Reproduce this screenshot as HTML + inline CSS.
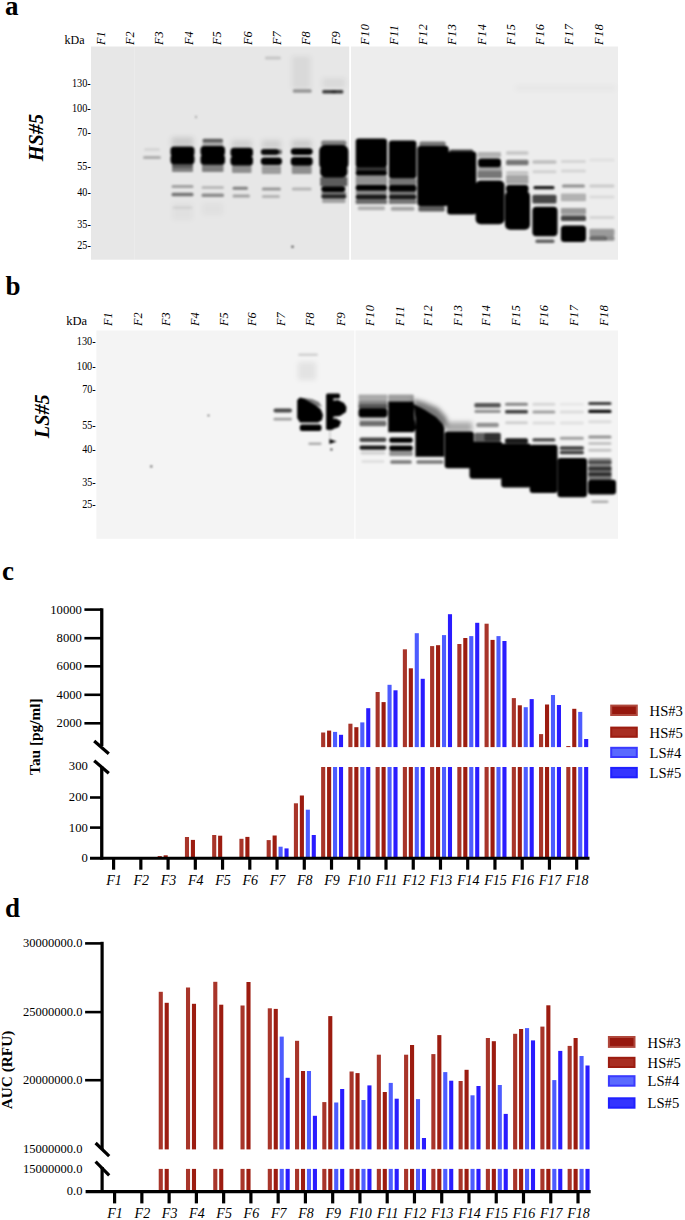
<!DOCTYPE html>
<html><head><meta charset="utf-8"><title>Figure</title>
<style>
html,body{margin:0;padding:0;background:#fff;}
body{width:685px;height:1220px;overflow:hidden;}
svg{display:block;font-family:"Liberation Serif", serif;}
text{stroke:none;}
</style></head>
<body>
<svg width="685" height="1220" viewBox="0 0 685 1220">
<rect width="685" height="1220" fill="#fff"/>
<text x="5" y="14.5" font-size="27" text-anchor="start" font-weight="bold" font-style="normal" fill="#000" style="stroke-width:0">a</text>
<text x="5.5" y="294.8" font-size="27" text-anchor="start" font-weight="bold" font-style="normal" fill="#000" style="stroke-width:0">b</text>
<text x="2" y="580" font-size="27" text-anchor="start" font-weight="bold" font-style="normal" fill="#000" style="stroke-width:0">c</text>
<text x="5" y="916.6" font-size="27" text-anchor="start" font-weight="bold" font-style="normal" fill="#000" style="stroke-width:0">d</text>
<defs><filter id="bl" x="-20%" y="-20%" width="140%" height="140%"><feGaussianBlur stdDeviation="1.15"/></filter><filter id="bl2" x="-20%" y="-20%" width="140%" height="140%"><feGaussianBlur stdDeviation="2.4"/></filter></defs>
<rect x="91" y="46.5" width="258.2" height="213.2" fill="#e7e7e7"/>
<rect x="351" y="46.5" width="267" height="213.2" fill="#ededed"/>
<rect x="134" y="46.5" width="1" height="213.2" fill="#fff" fill-opacity=".18"/>
<g filter="url(#bl2)"><rect x="171.5" y="137.0" width="22.0" height="10.0" rx="1.5" fill="#000" fill-opacity="0.12"/><rect x="172.5" y="203.0" width="20.0" height="17.0" rx="1.5" fill="#000" fill-opacity="0.03"/><rect x="202.5" y="203.0" width="20.5" height="12.0" rx="1.5" fill="#000" fill-opacity="0.03"/><rect x="231.5" y="140.0" width="20.5" height="8.0" rx="1.5" fill="#000" fill-opacity="0.1"/><rect x="261.8" y="140.0" width="19.2" height="9.0" rx="1.5" fill="#000" fill-opacity="0.1"/><rect x="291.8" y="56.0" width="18.9" height="33.0" rx="1.5" fill="#000" fill-opacity="0.06"/><rect x="291.8" y="140.0" width="19.9" height="8.0" rx="1.5" fill="#000" fill-opacity="0.12"/><rect x="322.2" y="78.0" width="23.2" height="10.0" rx="1.5" fill="#000" fill-opacity="0.06"/><rect x="515.0" y="85.0" width="101.0" height="6.0" rx="1.5" fill="#000" fill-opacity="0.025"/></g>
<g filter="url(#bl)"><rect x="143.0" y="156.0" width="18.0" height="3.0" rx="1.5" fill="#000" fill-opacity="0.25"/><rect x="144.0" y="148.0" width="16.0" height="3.0" rx="1.5" fill="#000" fill-opacity="0.08"/><rect x="170.5" y="146.4" width="24.0" height="10.1" rx="3.5" fill="#000" fill-opacity="1"/><rect x="170.5" y="154.5" width="24.0" height="9.7" rx="3.5" fill="#000" fill-opacity="1"/><rect x="172.0" y="163.0" width="21.0" height="4.5" rx="1" fill="#000" fill-opacity="0.6"/><rect x="172.0" y="167.0" width="21.0" height="5.0" rx="1" fill="#000" fill-opacity="0.45"/><rect x="171.5" y="185.1" width="22.0" height="3.0" rx="1.5" fill="#000" fill-opacity="0.3"/><rect x="171.5" y="192.8" width="22.0" height="3.5" rx="1.5" fill="#000" fill-opacity="0.5"/><rect x="172.5" y="206.2" width="20.0" height="3.0" rx="1.5" fill="#000" fill-opacity="0.06"/><rect x="202.5" y="138.7" width="20.5" height="3.5" rx="1.5" fill="#000" fill-opacity="0.6"/><rect x="202.5" y="142.0" width="20.5" height="4.5" rx="1" fill="#000" fill-opacity="0.25"/><rect x="200.5" y="146.0" width="24.5" height="10.0" rx="3.5" fill="#000" fill-opacity="1"/><rect x="200.5" y="154.5" width="24.5" height="10.2" rx="3.5" fill="#000" fill-opacity="1"/><rect x="202.0" y="164.0" width="21.5" height="8.0" rx="1" fill="#000" fill-opacity="0.45"/><rect x="201.5" y="186.1" width="22.5" height="3.0" rx="1.5" fill="#000" fill-opacity="0.2"/><rect x="201.5" y="193.4" width="22.5" height="3.5" rx="1.5" fill="#000" fill-opacity="0.4"/><rect x="230.5" y="147.8" width="22.5" height="9.2" rx="3.5" fill="#000" fill-opacity="1"/><rect x="230.5" y="156.0" width="22.5" height="9.4" rx="3.5" fill="#000" fill-opacity="1"/><rect x="232.0" y="165.0" width="19.5" height="8.0" rx="1" fill="#000" fill-opacity="0.38"/><rect x="232.5" y="186.8" width="15.5" height="3.0" rx="1.5" fill="#000" fill-opacity="0.45"/><rect x="232.5" y="194.4" width="17.5" height="3.0" rx="1.5" fill="#000" fill-opacity="0.3"/><rect x="260.8" y="149.0" width="18.2" height="6.1" rx="3" fill="#000" fill-opacity="0.95"/><rect x="277.0" y="149.5" width="5.0" height="5.1" rx="2" fill="#000" fill-opacity="0.55"/><rect x="260.8" y="157.5" width="21.2" height="7.5" rx="3.5" fill="#000" fill-opacity="1"/><rect x="261.8" y="165.5" width="19.2" height="8.5" rx="1" fill="#000" fill-opacity="0.32"/><rect x="261.8" y="187.6" width="19.2" height="3.0" rx="1.5" fill="#000" fill-opacity="0.35"/><rect x="261.8" y="194.9" width="18.2" height="3.0" rx="1.5" fill="#000" fill-opacity="0.22"/><rect x="264.8" y="56.5" width="16.2" height="3.0" rx="1.5" fill="#000" fill-opacity="0.15"/><rect x="290.8" y="148.2" width="21.9" height="6.8" rx="3.5" fill="#000" fill-opacity="1"/><rect x="290.8" y="157.0" width="21.9" height="8.8" rx="3.5" fill="#000" fill-opacity="1"/><rect x="291.8" y="166.0" width="19.9" height="8.0" rx="1" fill="#000" fill-opacity="0.38"/><rect x="291.8" y="187.5" width="19.9" height="3.0" rx="1.5" fill="#000" fill-opacity="0.22"/><rect x="292.8" y="89.2" width="18.9" height="3.5" rx="1.5" fill="#000" fill-opacity="0.35"/><rect x="321.2" y="140.5" width="25.2" height="5.5" rx="2" fill="#000" fill-opacity="0.45"/><rect x="319.2" y="145.0" width="29.2" height="25.0" rx="6" fill="#000" fill-opacity="1"/><rect x="320.2" y="165.0" width="27.2" height="12.4" rx="5" fill="#000" fill-opacity="1"/><rect x="322.2" y="90.0" width="21.2" height="3.5" rx="1.5" fill="#000" fill-opacity="0.75"/><rect x="331.2" y="90.2" width="5.2" height="3.0" rx="1.5" fill="#000" fill-opacity="0.35"/><rect x="320.2" y="177.0" width="27.2" height="9.2" rx="1" fill="#000" fill-opacity="0.6"/><rect x="321.2" y="186.2" width="24.2" height="5.8" rx="3" fill="#000" fill-opacity="1"/><rect x="321.2" y="192.0" width="25.2" height="2.2" rx="1" fill="#000" fill-opacity="0.45"/><rect x="321.2" y="194.2" width="25.2" height="4.4" rx="2" fill="#000" fill-opacity="0.85"/><rect x="322.2" y="198.6" width="23.2" height="4.4" rx="1" fill="#000" fill-opacity="0.3"/><rect x="355.7" y="138.5" width="31.3" height="29.0" rx="3" fill="#000" fill-opacity="1"/><rect x="355.7" y="167.0" width="31.3" height="4.0" rx="1" fill="#000" fill-opacity="0.75"/><rect x="355.7" y="170.5" width="31.3" height="5.0" rx="2" fill="#000" fill-opacity="1"/><rect x="355.7" y="175.5" width="31.3" height="9.5" rx="1" fill="#000" fill-opacity="0.38"/><rect x="355.7" y="185.0" width="31.3" height="5.7" rx="2" fill="#000" fill-opacity="1"/><rect x="355.7" y="190.7" width="31.3" height="3.8" rx="1" fill="#000" fill-opacity="0.4"/><rect x="355.7" y="194.5" width="31.3" height="4.8" rx="2" fill="#000" fill-opacity="0.9"/><rect x="355.7" y="199.3" width="31.3" height="4.7" rx="1" fill="#000" fill-opacity="0.55"/><rect x="357.7" y="206.3" width="27.3" height="4.0" rx="1.5" fill="#000" fill-opacity="0.25"/><rect x="388.9" y="140.4" width="27.5" height="38.0" rx="3" fill="#000" fill-opacity="1"/><rect x="388.9" y="178.4" width="27.5" height="6.6" rx="1" fill="#000" fill-opacity="0.5"/><rect x="388.9" y="185.0" width="27.5" height="6.7" rx="2" fill="#000" fill-opacity="1"/><rect x="388.9" y="191.7" width="27.5" height="2.8" rx="1" fill="#000" fill-opacity="0.45"/><rect x="388.9" y="194.5" width="27.5" height="4.8" rx="2" fill="#000" fill-opacity="0.9"/><rect x="388.9" y="199.3" width="27.5" height="4.7" rx="1" fill="#000" fill-opacity="0.5"/><rect x="390.9" y="206.7" width="23.5" height="4.0" rx="1.5" fill="#000" fill-opacity="0.3"/><rect x="419.4" y="141.4" width="26.3" height="5.6" rx="2" fill="#000" fill-opacity="0.5"/><rect x="417.4" y="146.0" width="31.3" height="60.0" rx="3" fill="#000" fill-opacity="1"/><rect x="418.4" y="206.0" width="26.3" height="5.6" rx="1.5" fill="#000" fill-opacity="0.6"/><rect x="449.7" y="149.5" width="23.5" height="3.0" rx="1.5" fill="#000" fill-opacity="0.7"/><rect x="447.2" y="151.5" width="29.0" height="63.0" rx="3" fill="#000" fill-opacity="1"/><rect x="477.6" y="152.0" width="23.4" height="5.5" rx="1" fill="#000" fill-opacity="0.25"/><rect x="478.1" y="158.6" width="22.9" height="8.6" rx="3" fill="#000" fill-opacity="1"/><rect x="477.6" y="166.3" width="24.4" height="4.4" rx="1" fill="#000" fill-opacity="0.3"/><rect x="477.6" y="170.7" width="24.4" height="7.6" rx="1" fill="#000" fill-opacity="0.5"/><rect x="475.6" y="180.5" width="28.9" height="43.8" rx="5" fill="#000" fill-opacity="1"/><rect x="506.0" y="151.0" width="22.5" height="4.0" rx="1.5" fill="#000" fill-opacity="0.15"/><rect x="506.0" y="159.7" width="22.5" height="5.5" rx="1.5" fill="#000" fill-opacity="0.5"/><rect x="506.0" y="171.3" width="22.5" height="3.0" rx="1.5" fill="#000" fill-opacity="0.2"/><rect x="506.0" y="175.0" width="22.5" height="9.0" rx="1" fill="#000" fill-opacity="0.3"/><rect x="506.0" y="184.9" width="22.5" height="7.7" rx="3" fill="#000" fill-opacity="1"/><rect x="505.0" y="191.0" width="25.0" height="38.8" rx="5" fill="#000" fill-opacity="1"/><rect x="532.4" y="160.2" width="24.1" height="3.5" rx="1.5" fill="#000" fill-opacity="0.2"/><rect x="532.4" y="170.2" width="24.1" height="3.0" rx="1.5" fill="#000" fill-opacity="0.12"/><rect x="533.4" y="186.0" width="21.1" height="3.2" rx="1.5" fill="#000" fill-opacity="0.9"/><rect x="532.4" y="194.7" width="24.1" height="8.8" rx="1.5" fill="#000" fill-opacity="0.7"/><rect x="532.4" y="206.8" width="25.1" height="29.5" rx="4" fill="#000" fill-opacity="1"/><rect x="535.4" y="239.6" width="19.1" height="3.5" rx="1.5" fill="#000" fill-opacity="0.6"/><rect x="560.9" y="160.0" width="25.1" height="3.0" rx="1.5" fill="#000" fill-opacity="0.1"/><rect x="560.9" y="169.5" width="25.1" height="3.0" rx="1.5" fill="#000" fill-opacity="0.1"/><rect x="561.9" y="184.5" width="23.1" height="3.0" rx="1.5" fill="#000" fill-opacity="0.4"/><rect x="560.9" y="193.6" width="25.1" height="7.7" rx="1" fill="#000" fill-opacity="0.25"/><rect x="560.9" y="207.9" width="25.1" height="6.5" rx="1" fill="#000" fill-opacity="0.35"/><rect x="560.9" y="215.5" width="25.1" height="5.5" rx="1.5" fill="#000" fill-opacity="0.7"/><rect x="560.9" y="225.4" width="25.1" height="16.6" rx="3.5" fill="#000" fill-opacity="1"/><rect x="560.9" y="233.5" width="25.1" height="3.0" rx="0" fill="#000" fill-opacity="0.15"/><rect x="589.3" y="158.5" width="25.2" height="3.0" rx="1.5" fill="#000" fill-opacity="0.05"/><rect x="589.3" y="184.5" width="25.2" height="3.0" rx="1.5" fill="#000" fill-opacity="0.15"/><rect x="589.3" y="195.5" width="25.2" height="3.0" rx="1.5" fill="#000" fill-opacity="0.08"/><rect x="589.3" y="216.0" width="25.2" height="3.0" rx="1.5" fill="#000" fill-opacity="0.1"/><rect x="589.3" y="228.7" width="25.2" height="7.3" rx="1.5" fill="#000" fill-opacity="0.35"/><rect x="589.3" y="236.0" width="17.2" height="4.7" rx="1.5" fill="#000" fill-opacity="0.55"/><rect x="605.5" y="236.0" width="9.0" height="4.7" rx="1.5" fill="#000" fill-opacity="0.4"/><circle cx="292.5" cy="246.8" r="1" fill="#000"/><circle cx="196" cy="117" r=".8" fill="#555"/></g>
<rect x="96.4" y="330.5" width="258" height="208.29999999999995" fill="#f4f4f4"/>
<rect x="355.5" y="330.5" width="262.5" height="208.29999999999995" fill="#f4f4f4"/>
<g filter="url(#bl2)"><rect x="298.0" y="362.0" width="18.0" height="18.0" rx="1.5" fill="#000" fill-opacity="0.07"/><polygon points="412,399 424,402 438,408 447,418 447,428 420,420" fill="#000" fill-opacity="0.5"/><rect x="446.2" y="422.0" width="26.1" height="10.0" rx="1.5" fill="#000" fill-opacity="0.3"/></g>
<g filter="url(#bl)"><rect x="273.5" y="408.6" width="18.5" height="4.0" rx="2" fill="#000" fill-opacity="0.7"/><rect x="273.5" y="417.8" width="18.5" height="2.7" rx="1.5" fill="#000" fill-opacity="0.35"/><polygon points="297.2,400 300,397.5 304,398.5 310,402 316,405.5 320.5,409 321.5,411 323,415 322,420 318,422.5 300,422.5 297.2,418" fill="#000" fill-opacity="1"/><polygon points="303,398 312,399 319,402 322,407 317,406 308,402" fill="#000" fill-opacity="0.5"/><rect x="299.8" y="424.4" width="21.7" height="6.6" rx="2.5" fill="#000" fill-opacity="1"/><rect x="308.4" y="442.6" width="13.1" height="2.4" rx="1" fill="#000" fill-opacity="0.3"/><rect x="298.0" y="353.4" width="20.0" height="2.5" rx="1.5" fill="#000" fill-opacity="0.15"/><rect x="326.1" y="393.5" width="13.9" height="5.0" rx="1.5" fill="#000" fill-opacity="1"/><rect x="326.1" y="396.0" width="7.2" height="33.7" rx="1.5" fill="#000" fill-opacity="1"/><polygon points="330,401 338,400 344,403 346.5,407 346,412 340,416 330,417" fill="#000" fill-opacity="1"/><polygon points="328,419 336,418.5 341.2,421.5 339,427 331,429.7 327,429.7" fill="#000" fill-opacity="1"/><polygon points="329.4,438.9 336.6,441.5 329.4,444.1" fill="#000" fill-opacity="1"/><circle cx="331.4" cy="449.6" r="1" fill="#000"/><rect x="329.6" y="430.0" width="0.8" height="9.0" rx="0" fill="#000" fill-opacity="0.3"/><rect x="358.5" y="394.6" width="28.9" height="6.2" rx="1" fill="#000" fill-opacity="0.3"/><rect x="358.5" y="400.8" width="28.9" height="4.2" rx="1" fill="#000" fill-opacity="0.45"/><rect x="358.5" y="404.5" width="28.9" height="4.2" rx="1" fill="#000" fill-opacity="0.65"/><rect x="358.5" y="408.3" width="28.9" height="9.1" rx="3" fill="#000" fill-opacity="1"/><rect x="358.5" y="417.4" width="28.9" height="3.6" rx="1" fill="#000" fill-opacity="0.15"/><rect x="359.5" y="421.0" width="26.9" height="5.2" rx="1.5" fill="#000" fill-opacity="0.55"/><rect x="359.5" y="437.6" width="26.9" height="4.4" rx="2" fill="#000" fill-opacity="0.7"/><rect x="359.5" y="445.4" width="26.9" height="4.4" rx="2" fill="#000" fill-opacity="0.9"/><rect x="360.5" y="451.5" width="24.9" height="3.0" rx="1.5" fill="#000" fill-opacity="0.15"/><rect x="361.5" y="460.2" width="22.9" height="2.5" rx="1.5" fill="#000" fill-opacity="0.1"/><rect x="388.3" y="394.6" width="25.4" height="7.0" rx="1" fill="#000" fill-opacity="0.35"/><polygon points="388.3,401.6 413.7,401.6 414.7,420 416.2,428 413.7,432.3 388.3,432.3" fill="#000" fill-opacity="1"/><rect x="389.3" y="437.6" width="23.4" height="5.2" rx="2" fill="#000" fill-opacity="1"/><rect x="389.3" y="445.4" width="23.4" height="5.3" rx="2" fill="#000" fill-opacity="1"/><rect x="389.3" y="451.0" width="23.4" height="5.0" rx="1" fill="#000" fill-opacity="0.4"/><rect x="390.3" y="460.3" width="21.4" height="3.5" rx="1.5" fill="#000" fill-opacity="0.5"/><polygon points="413.7,404 425,410 436,417 442.6,424 444.3,428 444.3,456.8 415.4,456.8 415.4,418" fill="#000" fill-opacity="1"/><rect x="416.4" y="460.3" width="26.9" height="3.5" rx="1.5" fill="#000" fill-opacity="0.5"/><rect x="444.7" y="431.4" width="29.1" height="36.8" rx="3" fill="#000" fill-opacity="1"/><rect x="474.4" y="403.1" width="26.3" height="4.4" rx="1.5" fill="#000" fill-opacity="0.65"/><rect x="474.4" y="409.7" width="26.3" height="3.3" rx="1.5" fill="#000" fill-opacity="0.4"/><rect x="476.4" y="422.8" width="22.3" height="4.4" rx="1.5" fill="#000" fill-opacity="0.4"/><rect x="474.4" y="432.7" width="26.3" height="8.8" rx="1.5" fill="#000" fill-opacity="0.6"/><rect x="484.4" y="433.0" width="16.3" height="8.0" rx="1.5" fill="#000" fill-opacity="0.5"/><rect x="469.5" y="441.5" width="33.0" height="37.2" rx="3" fill="#000" fill-opacity="1"/><rect x="505.0" y="402.7" width="23.0" height="3.0" rx="1.5" fill="#000" fill-opacity="0.45"/><rect x="505.0" y="410.1" width="23.0" height="3.5" rx="1.5" fill="#000" fill-opacity="0.75"/><rect x="505.0" y="421.3" width="23.0" height="3.0" rx="1.5" fill="#000" fill-opacity="0.15"/><rect x="505.0" y="438.2" width="23.0" height="5.4" rx="2" fill="#000" fill-opacity="0.9"/><rect x="501.2" y="443.6" width="29.8" height="43.8" rx="3" fill="#000" fill-opacity="1"/><rect x="532.4" y="402.7" width="23.0" height="3.0" rx="1.5" fill="#000" fill-opacity="0.12"/><rect x="532.4" y="410.4" width="23.0" height="3.0" rx="1.5" fill="#000" fill-opacity="0.35"/><rect x="532.4" y="421.5" width="23.0" height="3.0" rx="1.5" fill="#000" fill-opacity="0.1"/><rect x="532.4" y="438.2" width="23.0" height="3.3" rx="1.5" fill="#000" fill-opacity="0.7"/><rect x="529.7" y="444.7" width="27.8" height="48.2" rx="3" fill="#000" fill-opacity="1"/><rect x="559.8" y="402.7" width="24.1" height="3.0" rx="1.5" fill="#000" fill-opacity="0.05"/><rect x="559.8" y="410.4" width="24.1" height="3.0" rx="1.5" fill="#000" fill-opacity="0.1"/><rect x="559.8" y="421.5" width="24.1" height="3.0" rx="1.5" fill="#000" fill-opacity="0.08"/><rect x="559.8" y="436.7" width="24.1" height="3.0" rx="1.5" fill="#000" fill-opacity="0.35"/><rect x="559.8" y="446.2" width="24.1" height="3.5" rx="1.5" fill="#000" fill-opacity="0.75"/><rect x="559.8" y="450.8" width="24.1" height="3.5" rx="1.5" fill="#000" fill-opacity="0.75"/><rect x="557.5" y="457.9" width="29.5" height="39.4" rx="3" fill="#000" fill-opacity="1"/><rect x="588.2" y="402.0" width="23.3" height="3.0" rx="1.5" fill="#000" fill-opacity="0.75"/><rect x="588.2" y="409.7" width="23.3" height="3.3" rx="1.5" fill="#000" fill-opacity="0.95"/><rect x="588.2" y="420.2" width="23.3" height="3.0" rx="1.5" fill="#000" fill-opacity="0.1"/><rect x="588.2" y="435.5" width="23.3" height="3.0" rx="1.5" fill="#000" fill-opacity="0.4"/><rect x="588.2" y="442.1" width="23.3" height="3.0" rx="1.5" fill="#000" fill-opacity="0.2"/><rect x="588.2" y="448.7" width="23.3" height="3.0" rx="1.5" fill="#000" fill-opacity="0.2"/><rect x="588.2" y="457.9" width="23.3" height="7.1" rx="1.5" fill="#000" fill-opacity="0.4"/><rect x="588.2" y="460.8" width="23.3" height="3.0" rx="1.5" fill="#000" fill-opacity="0.55"/><rect x="588.2" y="467.1" width="23.3" height="3.5" rx="1.5" fill="#000" fill-opacity="0.6"/><rect x="588.2" y="465.0" width="23.3" height="15.0" rx="1.5" fill="#000" fill-opacity="0.5"/><rect x="588.2" y="472.6" width="23.3" height="3.5" rx="1.5" fill="#000" fill-opacity="0.65"/><rect x="588.0" y="479.8" width="28.0" height="14.7" rx="3" fill="#000" fill-opacity="1"/><rect x="591.2" y="500.4" width="17.3" height="2.5" rx="1.5" fill="#000" fill-opacity="0.3"/><circle cx="151.3" cy="466.4" r=".9" fill="#000"/><circle cx="208.5" cy="415.5" r=".8" fill="#000"/></g>
<text x="0" y="0" transform="translate(105.1,44.9) rotate(-90)" font-size="12.3" text-anchor="start" font-weight="normal" font-style="italic" fill="#000" style="stroke-width:0">F1</text>
<text x="0" y="0" transform="translate(134.20000000000002,44.9) rotate(-90)" font-size="12.3" text-anchor="start" font-weight="normal" font-style="italic" fill="#000" style="stroke-width:0">F2</text>
<text x="0" y="0" transform="translate(162.8,44.9) rotate(-90)" font-size="12.3" text-anchor="start" font-weight="normal" font-style="italic" fill="#000" style="stroke-width:0">F3</text>
<text x="0" y="0" transform="translate(192.60000000000002,44.9) rotate(-90)" font-size="12.3" text-anchor="start" font-weight="normal" font-style="italic" fill="#000" style="stroke-width:0">F4</text>
<text x="0" y="0" transform="translate(221.20000000000002,44.9) rotate(-90)" font-size="12.3" text-anchor="start" font-weight="normal" font-style="italic" fill="#000" style="stroke-width:0">F5</text>
<text x="0" y="0" transform="translate(252.0,44.9) rotate(-90)" font-size="12.3" text-anchor="start" font-weight="normal" font-style="italic" fill="#000" style="stroke-width:0">F6</text>
<text x="0" y="0" transform="translate(280.90000000000003,44.9) rotate(-90)" font-size="12.3" text-anchor="start" font-weight="normal" font-style="italic" fill="#000" style="stroke-width:0">F7</text>
<text x="0" y="0" transform="translate(309.7,44.9) rotate(-90)" font-size="12.3" text-anchor="start" font-weight="normal" font-style="italic" fill="#000" style="stroke-width:0">F8</text>
<text x="0" y="0" transform="translate(339.8,44.9) rotate(-90)" font-size="12.3" text-anchor="start" font-weight="normal" font-style="italic" fill="#000" style="stroke-width:0">F9</text>
<text x="0" y="0" transform="translate(368.7,44.9) rotate(-90)" font-size="12.3" text-anchor="start" font-weight="normal" font-style="italic" fill="#000" letter-spacing="0.5" style="stroke-width:0">F10</text>
<text x="0" y="0" transform="translate(397.5,44.9) rotate(-90)" font-size="12.3" text-anchor="start" font-weight="normal" font-style="italic" fill="#000" letter-spacing="0.5" style="stroke-width:0">F11</text>
<text x="0" y="0" transform="translate(426.7,44.9) rotate(-90)" font-size="12.3" text-anchor="start" font-weight="normal" font-style="italic" fill="#000" letter-spacing="0.5" style="stroke-width:0">F12</text>
<text x="0" y="0" transform="translate(456.1,44.9) rotate(-90)" font-size="12.3" text-anchor="start" font-weight="normal" font-style="italic" fill="#000" letter-spacing="0.5" style="stroke-width:0">F13</text>
<text x="0" y="0" transform="translate(485.8,44.9) rotate(-90)" font-size="12.3" text-anchor="start" font-weight="normal" font-style="italic" fill="#000" letter-spacing="0.5" style="stroke-width:0">F14</text>
<text x="0" y="0" transform="translate(514.8,44.9) rotate(-90)" font-size="12.3" text-anchor="start" font-weight="normal" font-style="italic" fill="#000" letter-spacing="0.5" style="stroke-width:0">F15</text>
<text x="0" y="0" transform="translate(544.1999999999999,44.9) rotate(-90)" font-size="12.3" text-anchor="start" font-weight="normal" font-style="italic" fill="#000" letter-spacing="0.5" style="stroke-width:0">F16</text>
<text x="0" y="0" transform="translate(573.1999999999999,44.9) rotate(-90)" font-size="12.3" text-anchor="start" font-weight="normal" font-style="italic" fill="#000" letter-spacing="0.5" style="stroke-width:0">F17</text>
<text x="0" y="0" transform="translate(602.5999999999999,44.9) rotate(-90)" font-size="12.3" text-anchor="start" font-weight="normal" font-style="italic" fill="#000" letter-spacing="0.5" style="stroke-width:0">F18</text>
<text x="0" y="0" transform="translate(111.60000000000001,325.9) rotate(-90)" font-size="12.3" text-anchor="start" font-weight="normal" font-style="italic" fill="#000" style="stroke-width:0">F1</text>
<text x="0" y="0" transform="translate(141.7,325.9) rotate(-90)" font-size="12.3" text-anchor="start" font-weight="normal" font-style="italic" fill="#000" style="stroke-width:0">F2</text>
<text x="0" y="0" transform="translate(169.7,325.9) rotate(-90)" font-size="12.3" text-anchor="start" font-weight="normal" font-style="italic" fill="#000" style="stroke-width:0">F3</text>
<text x="0" y="0" transform="translate(198.79999999999998,325.9) rotate(-90)" font-size="12.3" text-anchor="start" font-weight="normal" font-style="italic" fill="#000" style="stroke-width:0">F4</text>
<text x="0" y="0" transform="translate(227.5,325.9) rotate(-90)" font-size="12.3" text-anchor="start" font-weight="normal" font-style="italic" fill="#000" style="stroke-width:0">F5</text>
<text x="0" y="0" transform="translate(255.89999999999998,325.9) rotate(-90)" font-size="12.3" text-anchor="start" font-weight="normal" font-style="italic" fill="#000" style="stroke-width:0">F6</text>
<text x="0" y="0" transform="translate(285.4,325.9) rotate(-90)" font-size="12.3" text-anchor="start" font-weight="normal" font-style="italic" fill="#000" style="stroke-width:0">F7</text>
<text x="0" y="0" transform="translate(314.2,325.9) rotate(-90)" font-size="12.3" text-anchor="start" font-weight="normal" font-style="italic" fill="#000" style="stroke-width:0">F8</text>
<text x="0" y="0" transform="translate(344.8,325.9) rotate(-90)" font-size="12.3" text-anchor="start" font-weight="normal" font-style="italic" fill="#000" style="stroke-width:0">F9</text>
<text x="0" y="0" transform="translate(374.2,325.9) rotate(-90)" font-size="12.3" text-anchor="start" font-weight="normal" font-style="italic" fill="#000" letter-spacing="0.5" style="stroke-width:0">F10</text>
<text x="0" y="0" transform="translate(403.8,325.9) rotate(-90)" font-size="12.3" text-anchor="start" font-weight="normal" font-style="italic" fill="#000" letter-spacing="0.5" style="stroke-width:0">F11</text>
<text x="0" y="0" transform="translate(432.2,325.9) rotate(-90)" font-size="12.3" text-anchor="start" font-weight="normal" font-style="italic" fill="#000" letter-spacing="0.5" style="stroke-width:0">F12</text>
<text x="0" y="0" transform="translate(461.7,325.9) rotate(-90)" font-size="12.3" text-anchor="start" font-weight="normal" font-style="italic" fill="#000" letter-spacing="0.5" style="stroke-width:0">F13</text>
<text x="0" y="0" transform="translate(490.2,325.9) rotate(-90)" font-size="12.3" text-anchor="start" font-weight="normal" font-style="italic" fill="#000" letter-spacing="0.5" style="stroke-width:0">F14</text>
<text x="0" y="0" transform="translate(520.2,325.9) rotate(-90)" font-size="12.3" text-anchor="start" font-weight="normal" font-style="italic" fill="#000" letter-spacing="0.5" style="stroke-width:0">F15</text>
<text x="0" y="0" transform="translate(548.2,325.9) rotate(-90)" font-size="12.3" text-anchor="start" font-weight="normal" font-style="italic" fill="#000" letter-spacing="0.5" style="stroke-width:0">F16</text>
<text x="0" y="0" transform="translate(578.0,325.9) rotate(-90)" font-size="12.3" text-anchor="start" font-weight="normal" font-style="italic" fill="#000" letter-spacing="0.5" style="stroke-width:0">F17</text>
<text x="0" y="0" transform="translate(607.6,325.9) rotate(-90)" font-size="12.3" text-anchor="start" font-weight="normal" font-style="italic" fill="#000" letter-spacing="0.5" style="stroke-width:0">F18</text>
<text x="64.5" y="43.7" font-size="12" text-anchor="start" font-weight="normal" font-style="normal" fill="#000">kDa</text>
<text x="66.3" y="324.8" font-size="12.5" text-anchor="start" font-weight="normal" font-style="normal" fill="#000">kDa</text>
<text x="71.9" y="86.9" font-size="13.2" textLength="18.9" lengthAdjust="spacingAndGlyphs">130-</text>
<text x="71.9" y="112.2" font-size="13.2" textLength="18.9" lengthAdjust="spacingAndGlyphs">100-</text>
<text x="77.3" y="135.7" font-size="13.2" textLength="13.5" lengthAdjust="spacingAndGlyphs">70-</text>
<text x="77.3" y="170.3" font-size="13.2" textLength="13.5" lengthAdjust="spacingAndGlyphs">55-</text>
<text x="77.3" y="195.5" font-size="13.2" textLength="13.5" lengthAdjust="spacingAndGlyphs">40-</text>
<text x="77.3" y="227.8" font-size="13.2" textLength="13.5" lengthAdjust="spacingAndGlyphs">35-</text>
<text x="77.3" y="249.3" font-size="13.2" textLength="13.5" lengthAdjust="spacingAndGlyphs">25-</text>
<text x="76.8" y="345.2" font-size="13.2" textLength="18.9" lengthAdjust="spacingAndGlyphs">130-</text>
<text x="76.8" y="370.4" font-size="13.2" textLength="18.9" lengthAdjust="spacingAndGlyphs">100-</text>
<text x="82.2" y="393.4" font-size="13.2" textLength="13.5" lengthAdjust="spacingAndGlyphs">70-</text>
<text x="82.2" y="428.6" font-size="13.2" textLength="13.5" lengthAdjust="spacingAndGlyphs">55-</text>
<text x="82.2" y="453.4" font-size="13.2" textLength="13.5" lengthAdjust="spacingAndGlyphs">40-</text>
<text x="82.2" y="486.2" font-size="13.2" textLength="13.5" lengthAdjust="spacingAndGlyphs">35-</text>
<text x="82.2" y="507.5" font-size="13.2" textLength="13.5" lengthAdjust="spacingAndGlyphs">25-</text>
<text x="0" y="0" transform="translate(42.8,161.2) rotate(-90)" font-size="20.3" text-anchor="start" font-weight="bold" font-style="italic" fill="#000" style="stroke-width:0">HS#5</text>
<text x="0" y="0" transform="translate(48.8,438.2) rotate(-90)" font-size="20.3" text-anchor="start" font-weight="bold" font-style="italic" fill="#000" style="stroke-width:0">LS#5</text>
<rect x="157.68" y="856.0" width="4.1" height="2.0" fill="#a8352a"/><rect x="163.63" y="855.3" width="4.1" height="2.7" fill="#9c1c10"/><rect x="184.92" y="837.0" width="4.1" height="21.0" fill="#a8352a"/><rect x="190.87" y="839.9" width="4.1" height="18.1" fill="#9c1c10"/><rect x="212.16" y="835.0" width="4.1" height="23.0" fill="#a8352a"/><rect x="218.11" y="835.7" width="4.1" height="22.3" fill="#9c1c10"/><rect x="239.40" y="838.8" width="4.1" height="19.2" fill="#a8352a"/><rect x="245.35" y="836.9" width="4.1" height="21.1" fill="#9c1c10"/><rect x="266.64" y="840.1" width="4.1" height="17.9" fill="#a8352a"/><rect x="272.59" y="835.5" width="4.1" height="22.5" fill="#9c1c10"/><rect x="278.54" y="846.7" width="4.1" height="11.3" fill="#4d5cff"/><rect x="284.49" y="848.4" width="4.1" height="9.6" fill="#2a1cff"/><rect x="293.88" y="803.3" width="4.1" height="54.7" fill="#a8352a"/><rect x="299.83" y="795.5" width="4.1" height="62.5" fill="#9c1c10"/><rect x="305.78" y="809.7" width="4.1" height="48.3" fill="#4d5cff"/><rect x="311.73" y="835.0" width="4.1" height="23.0" fill="#2a1cff"/><rect x="321.12" y="767.0" width="4.1" height="91.0" fill="#a8352a"/><rect x="327.07" y="767.0" width="4.1" height="91.0" fill="#9c1c10"/><rect x="333.02" y="767.0" width="4.1" height="91.0" fill="#4d5cff"/><rect x="338.97" y="767.0" width="4.1" height="91.0" fill="#2a1cff"/><rect x="348.36" y="767.0" width="4.1" height="91.0" fill="#a8352a"/><rect x="354.31" y="767.0" width="4.1" height="91.0" fill="#9c1c10"/><rect x="360.26" y="767.0" width="4.1" height="91.0" fill="#4d5cff"/><rect x="366.21" y="767.0" width="4.1" height="91.0" fill="#2a1cff"/><rect x="375.60" y="767.0" width="4.1" height="91.0" fill="#a8352a"/><rect x="381.55" y="767.0" width="4.1" height="91.0" fill="#9c1c10"/><rect x="387.50" y="767.0" width="4.1" height="91.0" fill="#4d5cff"/><rect x="393.45" y="767.0" width="4.1" height="91.0" fill="#2a1cff"/><rect x="402.84" y="767.0" width="4.1" height="91.0" fill="#a8352a"/><rect x="408.79" y="767.0" width="4.1" height="91.0" fill="#9c1c10"/><rect x="414.74" y="767.0" width="4.1" height="91.0" fill="#4d5cff"/><rect x="420.69" y="767.0" width="4.1" height="91.0" fill="#2a1cff"/><rect x="430.08" y="767.0" width="4.1" height="91.0" fill="#a8352a"/><rect x="436.03" y="767.0" width="4.1" height="91.0" fill="#9c1c10"/><rect x="441.98" y="767.0" width="4.1" height="91.0" fill="#4d5cff"/><rect x="447.93" y="767.0" width="4.1" height="91.0" fill="#2a1cff"/><rect x="457.32" y="767.0" width="4.1" height="91.0" fill="#a8352a"/><rect x="463.27" y="767.0" width="4.1" height="91.0" fill="#9c1c10"/><rect x="469.22" y="767.0" width="4.1" height="91.0" fill="#4d5cff"/><rect x="475.17" y="767.0" width="4.1" height="91.0" fill="#2a1cff"/><rect x="484.56" y="767.0" width="4.1" height="91.0" fill="#a8352a"/><rect x="490.51" y="767.0" width="4.1" height="91.0" fill="#9c1c10"/><rect x="496.46" y="767.0" width="4.1" height="91.0" fill="#4d5cff"/><rect x="502.41" y="767.0" width="4.1" height="91.0" fill="#2a1cff"/><rect x="511.80" y="767.0" width="4.1" height="91.0" fill="#a8352a"/><rect x="517.75" y="767.0" width="4.1" height="91.0" fill="#9c1c10"/><rect x="523.70" y="767.0" width="4.1" height="91.0" fill="#4d5cff"/><rect x="529.65" y="767.0" width="4.1" height="91.0" fill="#2a1cff"/><rect x="539.04" y="767.0" width="4.1" height="91.0" fill="#a8352a"/><rect x="544.99" y="767.0" width="4.1" height="91.0" fill="#9c1c10"/><rect x="550.94" y="767.0" width="4.1" height="91.0" fill="#4d5cff"/><rect x="556.89" y="767.0" width="4.1" height="91.0" fill="#2a1cff"/><rect x="566.28" y="767.0" width="4.1" height="91.0" fill="#a8352a"/><rect x="572.23" y="767.0" width="4.1" height="91.0" fill="#9c1c10"/><rect x="578.18" y="767.0" width="4.1" height="91.0" fill="#4d5cff"/><rect x="584.13" y="767.0" width="4.1" height="91.0" fill="#2a1cff"/>
<rect x="321.12" y="732.5" width="4.1" height="14.6" fill="#a8352a"/><rect x="327.07" y="730.6" width="4.1" height="16.5" fill="#9c1c10"/><rect x="333.02" y="731.9" width="4.1" height="15.2" fill="#4d5cff"/><rect x="338.97" y="734.8" width="4.1" height="12.3" fill="#2a1cff"/><rect x="348.36" y="723.7" width="4.1" height="23.4" fill="#a8352a"/><rect x="354.31" y="727.2" width="4.1" height="19.9" fill="#9c1c10"/><rect x="360.26" y="722.4" width="4.1" height="24.7" fill="#4d5cff"/><rect x="366.21" y="708.2" width="4.1" height="38.9" fill="#2a1cff"/><rect x="375.60" y="692.0" width="4.1" height="55.1" fill="#a8352a"/><rect x="381.55" y="702.1" width="4.1" height="45.0" fill="#9c1c10"/><rect x="387.50" y="684.8" width="4.1" height="62.3" fill="#4d5cff"/><rect x="393.45" y="690.3" width="4.1" height="56.8" fill="#2a1cff"/><rect x="402.84" y="649.3" width="4.1" height="97.8" fill="#a8352a"/><rect x="408.79" y="668.3" width="4.1" height="78.8" fill="#9c1c10"/><rect x="414.74" y="633.2" width="4.1" height="113.9" fill="#4d5cff"/><rect x="420.69" y="678.8" width="4.1" height="68.3" fill="#2a1cff"/><rect x="430.08" y="646.1" width="4.1" height="101.0" fill="#a8352a"/><rect x="436.03" y="645.2" width="4.1" height="101.9" fill="#9c1c10"/><rect x="441.98" y="635.1" width="4.1" height="112.0" fill="#4d5cff"/><rect x="447.93" y="614.2" width="4.1" height="132.9" fill="#2a1cff"/><rect x="457.32" y="644.0" width="4.1" height="103.1" fill="#a8352a"/><rect x="463.27" y="638.0" width="4.1" height="109.1" fill="#9c1c10"/><rect x="469.22" y="636.1" width="4.1" height="111.0" fill="#4d5cff"/><rect x="475.17" y="622.8" width="4.1" height="124.3" fill="#2a1cff"/><rect x="484.56" y="623.7" width="4.1" height="123.4" fill="#a8352a"/><rect x="490.51" y="639.9" width="4.1" height="107.2" fill="#9c1c10"/><rect x="496.46" y="636.1" width="4.1" height="111.0" fill="#4d5cff"/><rect x="502.41" y="641.0" width="4.1" height="106.1" fill="#2a1cff"/><rect x="511.80" y="698.1" width="4.1" height="49.0" fill="#a8352a"/><rect x="517.75" y="705.3" width="4.1" height="41.8" fill="#9c1c10"/><rect x="523.70" y="707.2" width="4.1" height="39.9" fill="#4d5cff"/><rect x="529.65" y="699.1" width="4.1" height="48.0" fill="#2a1cff"/><rect x="539.04" y="734.1" width="4.1" height="13.0" fill="#a8352a"/><rect x="544.99" y="704.5" width="4.1" height="42.6" fill="#9c1c10"/><rect x="550.94" y="695.0" width="4.1" height="52.1" fill="#4d5cff"/><rect x="556.89" y="705.0" width="4.1" height="42.1" fill="#2a1cff"/><rect x="566.28" y="746.0" width="4.1" height="1.1" fill="#a8352a"/><rect x="572.23" y="708.8" width="4.1" height="38.3" fill="#9c1c10"/><rect x="578.18" y="711.9" width="4.1" height="35.2" fill="#4d5cff"/><rect x="584.13" y="739.0" width="4.1" height="8.1" fill="#2a1cff"/>
<line x1="101.75" y1="608.3" x2="101.75" y2="746" stroke="#000" stroke-width="3.3"/>
<line x1="101.75" y1="766.5" x2="101.75" y2="859.8" stroke="#000" stroke-width="3.3"/>
<line x1="94.2" y1="741" x2="108.8" y2="753.7" stroke="#000" stroke-width="3.2"/>
<line x1="94.2" y1="760.7" x2="108.8" y2="773.3" stroke="#000" stroke-width="3.2"/>
<line x1="84.4" y1="609.6" x2="101.75" y2="609.6" stroke="#000" stroke-width="2.6"/>
<text x="0" y="0" transform="translate(81.9,613.5) scale(0.945,1)" font-size="13.4" text-anchor="end" font-weight="normal" font-style="normal" fill="#000">10000</text>
<line x1="84.4" y1="638.2" x2="101.75" y2="638.2" stroke="#000" stroke-width="2.6"/>
<text x="0" y="0" transform="translate(81.9,642.1) scale(0.945,1)" font-size="13.4" text-anchor="end" font-weight="normal" font-style="normal" fill="#000">8000</text>
<line x1="84.4" y1="666.3" x2="101.75" y2="666.3" stroke="#000" stroke-width="2.6"/>
<text x="0" y="0" transform="translate(81.9,670.1999999999999) scale(0.945,1)" font-size="13.4" text-anchor="end" font-weight="normal" font-style="normal" fill="#000">6000</text>
<line x1="84.4" y1="694.8" x2="101.75" y2="694.8" stroke="#000" stroke-width="2.6"/>
<text x="0" y="0" transform="translate(81.9,698.6999999999999) scale(0.945,1)" font-size="13.4" text-anchor="end" font-weight="normal" font-style="normal" fill="#000">4000</text>
<line x1="84.4" y1="723.3" x2="101.75" y2="723.3" stroke="#000" stroke-width="2.6"/>
<text x="0" y="0" transform="translate(81.9,727.1999999999999) scale(0.945,1)" font-size="13.4" text-anchor="end" font-weight="normal" font-style="normal" fill="#000">2000</text>
<line x1="90" y1="797.5" x2="101.75" y2="797.5" stroke="#000" stroke-width="2.6"/>
<text x="0" y="0" transform="translate(87.8,801.4) scale(0.945,1)" font-size="13.4" text-anchor="end" font-weight="normal" font-style="normal" fill="#000">200</text>
<line x1="90" y1="827.6" x2="101.75" y2="827.6" stroke="#000" stroke-width="2.6"/>
<text x="0" y="0" transform="translate(87.8,831.5) scale(0.945,1)" font-size="13.4" text-anchor="end" font-weight="normal" font-style="normal" fill="#000">100</text>
<text x="0" y="0" transform="translate(87.8,769.6999999999999) scale(0.945,1)" font-size="13.4" text-anchor="end" font-weight="normal" font-style="normal" fill="#000">300</text>
<text x="0" y="0" transform="translate(87.8,862.1999999999999) scale(0.945,1)" font-size="13.4" text-anchor="end" font-weight="normal" font-style="normal" fill="#000">0</text>
<line x1="90" y1="858.3" x2="589.5" y2="858.3" stroke="#000" stroke-width="3.1"/>
<line x1="113.60" y1="858" x2="113.60" y2="869.7" stroke="#000" stroke-width="3.2"/>
<text x="114.1" y="885.4" font-size="14" text-anchor="middle" font-weight="normal" font-style="italic" fill="#000">F1</text>
<line x1="140.84" y1="858" x2="140.84" y2="869.7" stroke="#000" stroke-width="3.2"/>
<text x="141.34" y="885.4" font-size="14" text-anchor="middle" font-weight="normal" font-style="italic" fill="#000">F2</text>
<line x1="168.08" y1="858" x2="168.08" y2="869.7" stroke="#000" stroke-width="3.2"/>
<text x="168.57999999999998" y="885.4" font-size="14" text-anchor="middle" font-weight="normal" font-style="italic" fill="#000">F3</text>
<line x1="195.32" y1="858" x2="195.32" y2="869.7" stroke="#000" stroke-width="3.2"/>
<text x="195.82" y="885.4" font-size="14" text-anchor="middle" font-weight="normal" font-style="italic" fill="#000">F4</text>
<line x1="222.56" y1="858" x2="222.56" y2="869.7" stroke="#000" stroke-width="3.2"/>
<text x="223.06" y="885.4" font-size="14" text-anchor="middle" font-weight="normal" font-style="italic" fill="#000">F5</text>
<line x1="249.80" y1="858" x2="249.80" y2="869.7" stroke="#000" stroke-width="3.2"/>
<text x="250.29999999999998" y="885.4" font-size="14" text-anchor="middle" font-weight="normal" font-style="italic" fill="#000">F6</text>
<line x1="277.04" y1="858" x2="277.04" y2="869.7" stroke="#000" stroke-width="3.2"/>
<text x="277.53999999999996" y="885.4" font-size="14" text-anchor="middle" font-weight="normal" font-style="italic" fill="#000">F7</text>
<line x1="304.28" y1="858" x2="304.28" y2="869.7" stroke="#000" stroke-width="3.2"/>
<text x="304.78" y="885.4" font-size="14" text-anchor="middle" font-weight="normal" font-style="italic" fill="#000">F8</text>
<line x1="331.52" y1="858" x2="331.52" y2="869.7" stroke="#000" stroke-width="3.2"/>
<text x="332.02" y="885.4" font-size="14" text-anchor="middle" font-weight="normal" font-style="italic" fill="#000">F9</text>
<line x1="358.76" y1="858" x2="358.76" y2="869.7" stroke="#000" stroke-width="3.2"/>
<text x="359.26" y="885.4" font-size="14" text-anchor="middle" font-weight="normal" font-style="italic" fill="#000">F10</text>
<line x1="386.00" y1="858" x2="386.00" y2="869.7" stroke="#000" stroke-width="3.2"/>
<text x="386.5" y="885.4" font-size="14" text-anchor="middle" font-weight="normal" font-style="italic" fill="#000">F11</text>
<line x1="413.24" y1="858" x2="413.24" y2="869.7" stroke="#000" stroke-width="3.2"/>
<text x="413.74" y="885.4" font-size="14" text-anchor="middle" font-weight="normal" font-style="italic" fill="#000">F12</text>
<line x1="440.48" y1="858" x2="440.48" y2="869.7" stroke="#000" stroke-width="3.2"/>
<text x="440.98" y="885.4" font-size="14" text-anchor="middle" font-weight="normal" font-style="italic" fill="#000">F13</text>
<line x1="467.72" y1="858" x2="467.72" y2="869.7" stroke="#000" stroke-width="3.2"/>
<text x="468.22" y="885.4" font-size="14" text-anchor="middle" font-weight="normal" font-style="italic" fill="#000">F14</text>
<line x1="494.96" y1="858" x2="494.96" y2="869.7" stroke="#000" stroke-width="3.2"/>
<text x="495.4599999999999" y="885.4" font-size="14" text-anchor="middle" font-weight="normal" font-style="italic" fill="#000">F15</text>
<line x1="522.20" y1="858" x2="522.20" y2="869.7" stroke="#000" stroke-width="3.2"/>
<text x="522.6999999999999" y="885.4" font-size="14" text-anchor="middle" font-weight="normal" font-style="italic" fill="#000">F16</text>
<line x1="549.44" y1="858" x2="549.44" y2="869.7" stroke="#000" stroke-width="3.2"/>
<text x="549.9399999999999" y="885.4" font-size="14" text-anchor="middle" font-weight="normal" font-style="italic" fill="#000">F17</text>
<line x1="576.68" y1="858" x2="576.68" y2="869.7" stroke="#000" stroke-width="3.2"/>
<text x="577.18" y="885.4" font-size="14" text-anchor="middle" font-weight="normal" font-style="italic" fill="#000">F18</text>
<text x="0" y="0" transform="translate(39.8,736.7) rotate(-90)" font-size="15.3" text-anchor="middle" font-weight="bold" font-style="normal" fill="#000" style="stroke-width:0">Tau [pg/ml]</text>
<rect x="611.2" y="705.6" width="25.6" height="9.4" fill="#96180e" stroke="#b0483c" stroke-width="2"/><text x="649.6" y="715.7" font-size="14.6" text-anchor="start" font-weight="normal" font-style="normal" fill="#000">HS#3</text><rect x="611.2" y="727.6" width="25.6" height="9.2" fill="#a82e22" stroke="#9c1c10" stroke-width="2"/><text x="649.6" y="737.5" font-size="14.6" text-anchor="start" font-weight="normal" font-style="normal" fill="#000">HS#5</text><rect x="611.2" y="747.8" width="25.6" height="9.2" fill="#5a6aff" stroke="#3a3aff" stroke-width="2"/><text x="649.6" y="757.7" font-size="14.6" text-anchor="start" font-weight="normal" font-style="normal" fill="#000">LS#4</text><rect x="611.2" y="767.9" width="25.6" height="9.4" fill="#3434ff" stroke="#2020ff" stroke-width="2"/><text x="649.6" y="778.0" font-size="14.6" text-anchor="start" font-weight="normal" font-style="normal" fill="#000">LS#5</text>
<rect x="158.72" y="991.8" width="4.1" height="157.6" fill="#a8352a"/><rect x="164.67" y="1002.8" width="4.1" height="146.6" fill="#9c1c10"/><rect x="185.98" y="987.5" width="4.1" height="161.9" fill="#a8352a"/><rect x="191.93" y="1003.8" width="4.1" height="145.6" fill="#9c1c10"/><rect x="213.24" y="981.8" width="4.1" height="167.6" fill="#a8352a"/><rect x="219.19" y="1004.7" width="4.1" height="144.7" fill="#9c1c10"/><rect x="240.50" y="1005.5" width="4.1" height="143.9" fill="#a8352a"/><rect x="246.45" y="982.0" width="4.1" height="167.4" fill="#9c1c10"/><rect x="267.76" y="1008.3" width="4.1" height="141.1" fill="#a8352a"/><rect x="273.71" y="1008.9" width="4.1" height="140.5" fill="#9c1c10"/><rect x="279.66" y="1036.6" width="4.1" height="112.8" fill="#4d5cff"/><rect x="285.61" y="1077.8" width="4.1" height="71.6" fill="#2a1cff"/><rect x="295.02" y="1040.8" width="4.1" height="108.6" fill="#a8352a"/><rect x="300.97" y="1071.0" width="4.1" height="78.4" fill="#9c1c10"/><rect x="306.92" y="1071.0" width="4.1" height="78.4" fill="#4d5cff"/><rect x="312.87" y="1115.8" width="4.1" height="33.6" fill="#2a1cff"/><rect x="322.28" y="1102.1" width="4.1" height="47.3" fill="#a8352a"/><rect x="328.23" y="1016.1" width="4.1" height="133.3" fill="#9c1c10"/><rect x="334.18" y="1102.5" width="4.1" height="46.9" fill="#4d5cff"/><rect x="340.13" y="1089.0" width="4.1" height="60.4" fill="#2a1cff"/><rect x="349.54" y="1071.5" width="4.1" height="77.9" fill="#a8352a"/><rect x="355.49" y="1073.1" width="4.1" height="76.3" fill="#9c1c10"/><rect x="361.44" y="1100.0" width="4.1" height="49.4" fill="#4d5cff"/><rect x="367.39" y="1085.4" width="4.1" height="64.0" fill="#2a1cff"/><rect x="376.80" y="1054.7" width="4.1" height="94.7" fill="#a8352a"/><rect x="382.75" y="1092.0" width="4.1" height="57.4" fill="#9c1c10"/><rect x="388.70" y="1082.9" width="4.1" height="66.5" fill="#4d5cff"/><rect x="394.65" y="1098.7" width="4.1" height="50.7" fill="#2a1cff"/><rect x="404.06" y="1054.7" width="4.1" height="94.7" fill="#a8352a"/><rect x="410.01" y="1045.0" width="4.1" height="104.4" fill="#9c1c10"/><rect x="415.96" y="1099.1" width="4.1" height="50.3" fill="#4d5cff"/><rect x="421.91" y="1138.0" width="4.1" height="11.4" fill="#2a1cff"/><rect x="431.32" y="1054.1" width="4.1" height="95.3" fill="#a8352a"/><rect x="437.27" y="1035.1" width="4.1" height="114.3" fill="#9c1c10"/><rect x="443.22" y="1072.1" width="4.1" height="77.3" fill="#4d5cff"/><rect x="449.17" y="1080.7" width="4.1" height="68.7" fill="#2a1cff"/><rect x="458.58" y="1081.0" width="4.1" height="68.4" fill="#a8352a"/><rect x="464.53" y="1069.8" width="4.1" height="79.6" fill="#9c1c10"/><rect x="470.48" y="1095.3" width="4.1" height="54.1" fill="#4d5cff"/><rect x="476.43" y="1086.0" width="4.1" height="63.4" fill="#2a1cff"/><rect x="485.84" y="1038.0" width="4.1" height="111.4" fill="#a8352a"/><rect x="491.79" y="1041.2" width="4.1" height="108.2" fill="#9c1c10"/><rect x="497.74" y="1085.0" width="4.1" height="64.4" fill="#4d5cff"/><rect x="503.69" y="1113.9" width="4.1" height="35.5" fill="#2a1cff"/><rect x="513.10" y="1033.8" width="4.1" height="115.6" fill="#a8352a"/><rect x="519.05" y="1029.0" width="4.1" height="120.4" fill="#9c1c10"/><rect x="525.00" y="1028.1" width="4.1" height="121.3" fill="#4d5cff"/><rect x="530.95" y="1040.4" width="4.1" height="109.0" fill="#2a1cff"/><rect x="540.36" y="1026.6" width="4.1" height="122.8" fill="#a8352a"/><rect x="546.31" y="1005.3" width="4.1" height="144.1" fill="#9c1c10"/><rect x="552.26" y="1080.1" width="4.1" height="69.3" fill="#4d5cff"/><rect x="558.21" y="1050.9" width="4.1" height="98.5" fill="#2a1cff"/><rect x="567.62" y="1045.9" width="4.1" height="103.5" fill="#a8352a"/><rect x="573.57" y="1038.0" width="4.1" height="111.4" fill="#9c1c10"/><rect x="579.52" y="1056.0" width="4.1" height="93.4" fill="#4d5cff"/><rect x="585.47" y="1065.5" width="4.1" height="83.9" fill="#2a1cff"/>
<rect x="158.72" y="1168.9" width="4.1" height="22.1" fill="#a8352a"/><rect x="164.67" y="1168.9" width="4.1" height="22.1" fill="#9c1c10"/><rect x="185.98" y="1168.9" width="4.1" height="22.1" fill="#a8352a"/><rect x="191.93" y="1168.9" width="4.1" height="22.1" fill="#9c1c10"/><rect x="213.24" y="1168.9" width="4.1" height="22.1" fill="#a8352a"/><rect x="219.19" y="1168.9" width="4.1" height="22.1" fill="#9c1c10"/><rect x="240.50" y="1168.9" width="4.1" height="22.1" fill="#a8352a"/><rect x="246.45" y="1168.9" width="4.1" height="22.1" fill="#9c1c10"/><rect x="267.76" y="1168.9" width="4.1" height="22.1" fill="#a8352a"/><rect x="273.71" y="1168.9" width="4.1" height="22.1" fill="#9c1c10"/><rect x="279.66" y="1168.9" width="4.1" height="22.1" fill="#4d5cff"/><rect x="285.61" y="1168.9" width="4.1" height="22.1" fill="#2a1cff"/><rect x="295.02" y="1168.9" width="4.1" height="22.1" fill="#a8352a"/><rect x="300.97" y="1168.9" width="4.1" height="22.1" fill="#9c1c10"/><rect x="306.92" y="1168.9" width="4.1" height="22.1" fill="#4d5cff"/><rect x="312.87" y="1168.9" width="4.1" height="22.1" fill="#2a1cff"/><rect x="322.28" y="1168.9" width="4.1" height="22.1" fill="#a8352a"/><rect x="328.23" y="1168.9" width="4.1" height="22.1" fill="#9c1c10"/><rect x="334.18" y="1168.9" width="4.1" height="22.1" fill="#4d5cff"/><rect x="340.13" y="1168.9" width="4.1" height="22.1" fill="#2a1cff"/><rect x="349.54" y="1168.9" width="4.1" height="22.1" fill="#a8352a"/><rect x="355.49" y="1168.9" width="4.1" height="22.1" fill="#9c1c10"/><rect x="361.44" y="1168.9" width="4.1" height="22.1" fill="#4d5cff"/><rect x="367.39" y="1168.9" width="4.1" height="22.1" fill="#2a1cff"/><rect x="376.80" y="1168.9" width="4.1" height="22.1" fill="#a8352a"/><rect x="382.75" y="1168.9" width="4.1" height="22.1" fill="#9c1c10"/><rect x="388.70" y="1168.9" width="4.1" height="22.1" fill="#4d5cff"/><rect x="394.65" y="1168.9" width="4.1" height="22.1" fill="#2a1cff"/><rect x="404.06" y="1168.9" width="4.1" height="22.1" fill="#a8352a"/><rect x="410.01" y="1168.9" width="4.1" height="22.1" fill="#9c1c10"/><rect x="415.96" y="1168.9" width="4.1" height="22.1" fill="#4d5cff"/><rect x="421.91" y="1168.9" width="4.1" height="22.1" fill="#2a1cff"/><rect x="431.32" y="1168.9" width="4.1" height="22.1" fill="#a8352a"/><rect x="437.27" y="1168.9" width="4.1" height="22.1" fill="#9c1c10"/><rect x="443.22" y="1168.9" width="4.1" height="22.1" fill="#4d5cff"/><rect x="449.17" y="1168.9" width="4.1" height="22.1" fill="#2a1cff"/><rect x="458.58" y="1168.9" width="4.1" height="22.1" fill="#a8352a"/><rect x="464.53" y="1168.9" width="4.1" height="22.1" fill="#9c1c10"/><rect x="470.48" y="1168.9" width="4.1" height="22.1" fill="#4d5cff"/><rect x="476.43" y="1168.9" width="4.1" height="22.1" fill="#2a1cff"/><rect x="485.84" y="1168.9" width="4.1" height="22.1" fill="#a8352a"/><rect x="491.79" y="1168.9" width="4.1" height="22.1" fill="#9c1c10"/><rect x="497.74" y="1168.9" width="4.1" height="22.1" fill="#4d5cff"/><rect x="503.69" y="1168.9" width="4.1" height="22.1" fill="#2a1cff"/><rect x="513.10" y="1168.9" width="4.1" height="22.1" fill="#a8352a"/><rect x="519.05" y="1168.9" width="4.1" height="22.1" fill="#9c1c10"/><rect x="525.00" y="1168.9" width="4.1" height="22.1" fill="#4d5cff"/><rect x="530.95" y="1168.9" width="4.1" height="22.1" fill="#2a1cff"/><rect x="540.36" y="1168.9" width="4.1" height="22.1" fill="#a8352a"/><rect x="546.31" y="1168.9" width="4.1" height="22.1" fill="#9c1c10"/><rect x="552.26" y="1168.9" width="4.1" height="22.1" fill="#4d5cff"/><rect x="558.21" y="1168.9" width="4.1" height="22.1" fill="#2a1cff"/><rect x="567.62" y="1168.9" width="4.1" height="22.1" fill="#a8352a"/><rect x="573.57" y="1168.9" width="4.1" height="22.1" fill="#9c1c10"/><rect x="579.52" y="1168.9" width="4.1" height="22.1" fill="#4d5cff"/><rect x="585.47" y="1168.9" width="4.1" height="22.1" fill="#2a1cff"/>
<line x1="102.1" y1="941.8" x2="102.1" y2="1149" stroke="#000" stroke-width="3.2"/>
<line x1="102.1" y1="1167" x2="102.1" y2="1192.8" stroke="#000" stroke-width="3.2"/>
<line x1="95.6" y1="1143" x2="109.2" y2="1156.2" stroke="#000" stroke-width="3.2"/>
<line x1="95.6" y1="1161.6" x2="109.2" y2="1175.3" stroke="#000" stroke-width="3.2"/>
<line x1="85.1" y1="943.4" x2="102.1" y2="943.4" stroke="#000" stroke-width="2.6"/>
<text x="0" y="0" transform="translate(82.4,947.3) scale(0.935,1)" font-size="13.4" text-anchor="end" font-weight="normal" font-style="normal" fill="#000">30000000.0</text>
<line x1="85.1" y1="1012.1" x2="102.1" y2="1012.1" stroke="#000" stroke-width="2.6"/>
<text x="0" y="0" transform="translate(82.4,1016.0) scale(0.935,1)" font-size="13.4" text-anchor="end" font-weight="normal" font-style="normal" fill="#000">25000000.0</text>
<line x1="85.1" y1="1080.2" x2="102.1" y2="1080.2" stroke="#000" stroke-width="2.6"/>
<text x="0" y="0" transform="translate(82.4,1084.1000000000001) scale(0.935,1)" font-size="13.4" text-anchor="end" font-weight="normal" font-style="normal" fill="#000">20000000.0</text>
<text x="0" y="0" transform="translate(82.4,1153.1000000000001) scale(0.935,1)" font-size="13.4" text-anchor="end" font-weight="normal" font-style="normal" fill="#000">15000000.0</text>
<text x="0" y="0" transform="translate(82.4,1172.5) scale(0.935,1)" font-size="13.4" text-anchor="end" font-weight="normal" font-style="normal" fill="#000">15000000.0</text>
<text x="0" y="0" transform="translate(82.4,1195.3000000000002) scale(0.935,1)" font-size="13.4" text-anchor="end" font-weight="normal" font-style="normal" fill="#000">0.0</text>
<line x1="85.6" y1="1191.6" x2="590.7" y2="1191.6" stroke="#000" stroke-width="3.1"/>
<line x1="114.60" y1="1191" x2="114.60" y2="1203.4" stroke="#000" stroke-width="3.2"/>
<text x="115.1" y="1218.3" font-size="14" text-anchor="middle" font-weight="normal" font-style="italic" fill="#000">F1</text>
<line x1="141.86" y1="1191" x2="141.86" y2="1203.4" stroke="#000" stroke-width="3.2"/>
<text x="142.35999999999999" y="1218.3" font-size="14" text-anchor="middle" font-weight="normal" font-style="italic" fill="#000">F2</text>
<line x1="169.12" y1="1191" x2="169.12" y2="1203.4" stroke="#000" stroke-width="3.2"/>
<text x="169.62" y="1218.3" font-size="14" text-anchor="middle" font-weight="normal" font-style="italic" fill="#000">F3</text>
<line x1="196.38" y1="1191" x2="196.38" y2="1203.4" stroke="#000" stroke-width="3.2"/>
<text x="196.88" y="1218.3" font-size="14" text-anchor="middle" font-weight="normal" font-style="italic" fill="#000">F4</text>
<line x1="223.64" y1="1191" x2="223.64" y2="1203.4" stroke="#000" stroke-width="3.2"/>
<text x="224.14" y="1218.3" font-size="14" text-anchor="middle" font-weight="normal" font-style="italic" fill="#000">F5</text>
<line x1="250.90" y1="1191" x2="250.90" y2="1203.4" stroke="#000" stroke-width="3.2"/>
<text x="251.4" y="1218.3" font-size="14" text-anchor="middle" font-weight="normal" font-style="italic" fill="#000">F6</text>
<line x1="278.16" y1="1191" x2="278.16" y2="1203.4" stroke="#000" stroke-width="3.2"/>
<text x="278.65999999999997" y="1218.3" font-size="14" text-anchor="middle" font-weight="normal" font-style="italic" fill="#000">F7</text>
<line x1="305.42" y1="1191" x2="305.42" y2="1203.4" stroke="#000" stroke-width="3.2"/>
<text x="305.92" y="1218.3" font-size="14" text-anchor="middle" font-weight="normal" font-style="italic" fill="#000">F8</text>
<line x1="332.68" y1="1191" x2="332.68" y2="1203.4" stroke="#000" stroke-width="3.2"/>
<text x="333.18" y="1218.3" font-size="14" text-anchor="middle" font-weight="normal" font-style="italic" fill="#000">F9</text>
<line x1="359.94" y1="1191" x2="359.94" y2="1203.4" stroke="#000" stroke-width="3.2"/>
<text x="360.44" y="1218.3" font-size="14" text-anchor="middle" font-weight="normal" font-style="italic" fill="#000">F10</text>
<line x1="387.20" y1="1191" x2="387.20" y2="1203.4" stroke="#000" stroke-width="3.2"/>
<text x="387.70000000000005" y="1218.3" font-size="14" text-anchor="middle" font-weight="normal" font-style="italic" fill="#000">F11</text>
<line x1="414.46" y1="1191" x2="414.46" y2="1203.4" stroke="#000" stroke-width="3.2"/>
<text x="414.96000000000004" y="1218.3" font-size="14" text-anchor="middle" font-weight="normal" font-style="italic" fill="#000">F12</text>
<line x1="441.72" y1="1191" x2="441.72" y2="1203.4" stroke="#000" stroke-width="3.2"/>
<text x="442.22" y="1218.3" font-size="14" text-anchor="middle" font-weight="normal" font-style="italic" fill="#000">F13</text>
<line x1="468.98" y1="1191" x2="468.98" y2="1203.4" stroke="#000" stroke-width="3.2"/>
<text x="469.48" y="1218.3" font-size="14" text-anchor="middle" font-weight="normal" font-style="italic" fill="#000">F14</text>
<line x1="496.24" y1="1191" x2="496.24" y2="1203.4" stroke="#000" stroke-width="3.2"/>
<text x="496.74" y="1218.3" font-size="14" text-anchor="middle" font-weight="normal" font-style="italic" fill="#000">F15</text>
<line x1="523.50" y1="1191" x2="523.50" y2="1203.4" stroke="#000" stroke-width="3.2"/>
<text x="524.0" y="1218.3" font-size="14" text-anchor="middle" font-weight="normal" font-style="italic" fill="#000">F16</text>
<line x1="550.76" y1="1191" x2="550.76" y2="1203.4" stroke="#000" stroke-width="3.2"/>
<text x="551.26" y="1218.3" font-size="14" text-anchor="middle" font-weight="normal" font-style="italic" fill="#000">F17</text>
<line x1="578.02" y1="1191" x2="578.02" y2="1203.4" stroke="#000" stroke-width="3.2"/>
<text x="578.52" y="1218.3" font-size="14" text-anchor="middle" font-weight="normal" font-style="italic" fill="#000">F18</text>
<text x="0" y="0" transform="translate(11.6,1070) rotate(-90)" font-size="15.3" text-anchor="middle" font-weight="bold" font-style="normal" fill="#000" style="stroke-width:0">AUC (RFU)</text>
<rect x="608.9" y="1037" width="25.6" height="9.9" fill="#96180e" stroke="#b0483c" stroke-width="2"/><text x="647.6" y="1047.6000000000001" font-size="14.6" text-anchor="start" font-weight="normal" font-style="normal" fill="#000">HS#3</text><rect x="608.9" y="1057.8" width="25.6" height="9.2" fill="#a82e22" stroke="#9c1c10" stroke-width="2"/><text x="647.6" y="1067.7" font-size="14.6" text-anchor="start" font-weight="normal" font-style="normal" fill="#000">HS#5</text><rect x="608.9" y="1076.2" width="25.6" height="9.5" fill="#5a6aff" stroke="#3a3aff" stroke-width="2"/><text x="647.6" y="1086.4" font-size="14.6" text-anchor="start" font-weight="normal" font-style="normal" fill="#000">LS#4</text><rect x="608.9" y="1098.3" width="25.6" height="9.4" fill="#3434ff" stroke="#2020ff" stroke-width="2"/><text x="647.6" y="1108.4" font-size="14.6" text-anchor="start" font-weight="normal" font-style="normal" fill="#000">LS#5</text>
</svg>
</body></html>
